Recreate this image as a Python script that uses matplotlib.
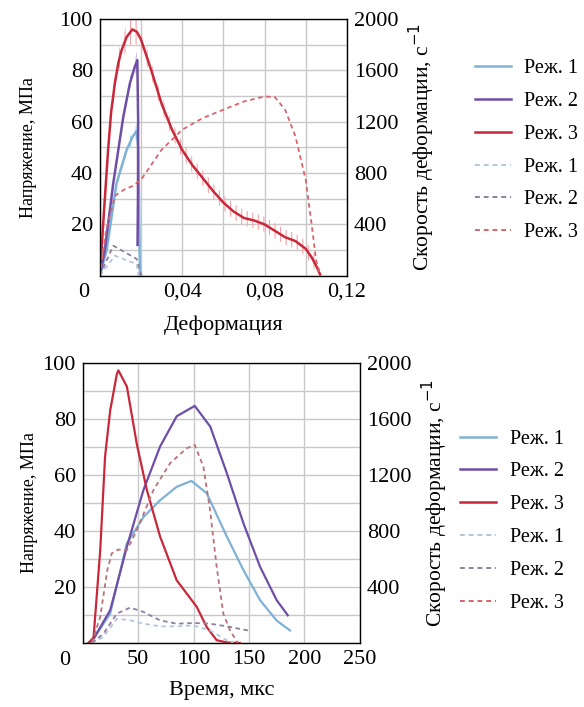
import numpy as np
import matplotlib
matplotlib.use('Agg')
import matplotlib.pyplot as plt
from matplotlib.lines import Line2D

plt.rcParams['font.family'] = ['Liberation Serif', 'DejaVu Serif']
plt.rcParams['font.size'] = 16
plt.rcParams['hatch.linewidth'] = 0.8

c1 = '#7fb2d6'
c2 = '#6e4fa5'
c3 = '#c8283a'
d1 = '#b4c6dc'
d2 = '#8f7f9e'
d3 = '#d9646c'

# ---- top chart: stress / strain rate vs strain ----
eps3 = [0, 0.002, 0.004, 0.0055, 0.0073, 0.009, 0.0106, 0.013, 0.0158, 0.018, 0.020, 0.025, 0.030,
        0.035, 0.040, 0.045, 0.050, 0.055, 0.060, 0.065, 0.070, 0.075, 0.080, 0.085,
        0.090, 0.095, 0.100, 0.103, 0.105, 0.107]
sig3 = [0, 25, 49, 64, 75, 83, 88, 93, 96, 95, 92, 80, 67,
        57, 49, 43, 38, 33, 28.5, 25, 22.5, 21.5, 20, 17.5,
        15, 13.5, 10.5, 7, 4, 0.5]
err3 = [0, 2, 3, 3, 4, 4, 4, 5, 5, 5, 4, 3, 3,
        3, 3, 3, 3, 3, 3, 3, 3, 3, 3, 3,
        3, 3, 3, 3, 3, 2]

eps2 = [0, 0.0024, 0.0065, 0.0114, 0.0146, 0.0168, 0.0182, 0.0186, 0.0185, 0.0183]
sig2 = [0, 10, 36, 62, 75, 81, 84, 60, 30, 12]
err2 = [0, 1, 1.5, 2, 2, 3, 4, 3, 2, 1]

eps1 = [0, 0.0033, 0.0081, 0.013, 0.0158, 0.0179, 0.0186, 0.019, 0.0193, 0.0195]
sig1 = [0, 10, 36, 49, 54, 56.5, 50, 30, 10, 0]
err1 = [0, 1, 1.5, 2, 2.5, 3, 2.5, 2, 1, 0]

reps3 = [0, 0.003, 0.0073, 0.0122, 0.016, 0.020, 0.030, 0.040, 0.050, 0.060, 0.070, 0.080,
         0.085, 0.090, 0.095, 0.100, 0.103, 0.105, 0.107]
rate3 = [0, 350, 623, 675, 700, 748, 982, 1138, 1229, 1294, 1358, 1397,
         1392, 1294, 1086, 748, 384, 125, 0]
reps2 = [0, 0.0065, 0.012, 0.0179, 0.019, 0.0203]
rate2 = [0, 234, 185, 130, 70, 0]
reps1 = [0, 0.0073, 0.013, 0.0179, 0.0187]
rate1 = [0, 156, 120, 91, 0]

# ---- bottom chart: stress / strain rate vs time ----
t3 = [5, 9.6, 15.6, 20, 24.6, 30.6, 32, 39.7, 48.7, 57.7, 69.7, 84.7, 93.7, 102.8, 111.8, 120.8, 130, 141.8]
s3 = [0, 2, 33, 66.6, 83, 96, 97.4, 91.6, 71, 54.7, 38, 22.4, 17.7, 12.9, 5.7, 1, 0.2, 0]
t2 = [5, 9.6, 24.6, 39.7, 54.7, 69.7, 84.7, 101, 115, 130, 145, 160, 175, 185]
s2 = [0, 1.5, 11.7, 34.4, 54.7, 70.2, 81, 84.7, 77.3, 60.6, 42.7, 27.2, 15.3, 9.9]
t1 = [5, 9.6, 24.6, 39.7, 54.7, 69.7, 84.7, 98, 111.8, 130, 145, 160, 175, 187]
s1 = [0, 1.5, 10.5, 35.6, 45, 51, 55.8, 57.9, 53.5, 38, 26, 15.3, 8, 4.5]

rt3 = [8, 15.6, 22, 26, 32, 39.7, 48.7, 63.7, 78.7, 93.7, 101, 108.8, 114.8, 120.8, 126.8, 132.8, 140]
r3 = [0, 186, 520, 640, 668, 663, 806, 1093, 1284, 1391, 1415, 1260, 950, 544, 210, 90, 0]
rt2 = [8, 18.6, 30.6, 42.7, 54.7, 69.7, 84.7, 99.8, 114.8, 130, 149]
r2 = [0, 67, 210, 253, 222, 162, 138, 143, 138, 119, 90]
rt1 = [8, 18.6, 30.6, 42.7, 54.7, 69.7, 84.7, 99.8, 114.8, 130, 136]
r1 = [0, 43, 174, 162, 138, 119, 119, 126, 90, 19, 0]

legend_labels = ['Реж. 1', 'Реж. 2', 'Реж. 3', 'Реж. 1', 'Реж. 2', 'Реж. 3']

fig = plt.figure(figsize=(5.84, 7.07), dpi=100)


def setup(ax, ax2, xmax, xstep, xlab_text, xlabel, ypad, xpad):
    ax.set_xlim(0, xmax)
    ax.set_ylim(0, 100)
    ax.set_xticks(np.arange(0, xmax + xstep / 2, xstep))
    ax.set_xticklabels([xlab_text.get(round(v, 4), '') for v in np.arange(0, xmax + xstep / 2, xstep)])
    ax.set_yticks(np.arange(0, 101, 10))
    ax.set_yticklabels(['' if (v % 20 or v == 0) else str(v) for v in range(0, 101, 10)])
    ax.grid(True, color='#c8c8c8', linewidth=1.0)
    ax.tick_params(length=0, pad=5)
    ax.set_axisbelow(True)
    ax.set_ylabel('Напряжение, МПа', labelpad=ypad, fontsize=13)
    ax.set_xlabel(xlabel, labelpad=xpad)
    for s in ax.spines.values():
        s.set_linewidth(1.0)
        s.set_color('#333333')
    ax2.set_ylim(0, 2000)
    ax2.set_yticks([400, 800, 1200, 1600, 2000])
    ax2.tick_params(length=0, pad=5)
    ax2.set_ylabel('Скорость деформации, с$^{-1}$', labelpad=6, fontsize=15.5)
    ax.text(-0.065, -0.03, '0', transform=ax.transAxes, ha='center', va='top')


def add_legend(pos):
    handles = [Line2D([], [], color=c1, lw=1.8), Line2D([], [], color=c2, lw=1.8),
               Line2D([], [], color=c3, lw=1.8),
               Line2D([], [], color=d1, lw=1.4, ls=(0, (2.5, 2))),
               Line2D([], [], color=d2, lw=1.4, ls=(0, (2.5, 2))),
               Line2D([], [], color=d3, lw=1.4, ls=(0, (2.5, 2)))]
    fig.legend(handles, legend_labels, loc='upper left', bbox_to_anchor=pos,
               frameon=False, handlelength=1.8, labelspacing=0.68, handletextpad=0.65,
               fontsize=14.5)


# top
ax = fig.add_axes([0.171, 0.610, 0.423, 0.363])
ax2 = ax.twinx()
setup(ax, ax2, 0.12, 0.02, {0.04: '0,04', 0.08: '0,08', 0.12: '0,12'}, 'Деформация', 16, 10)
for e, s, er, col in [(eps3, sig3, err3, '#f5a3a8'), (eps2, sig2, err2, '#b9a6dc'), (eps1, sig1, err1, '#a9d2ee')]:
    s = np.array(s)
    er = np.array(er)
    ax.fill_between(e, s - er, s + er, facecolor='none', edgecolor=col, hatch='|||', linewidth=0)
ax.plot(eps1, sig1, color=c1, lw=1.8)
ax.plot(eps2, sig2, color=c2, lw=1.8)
ax.plot(eps3, sig3, color=c3, lw=1.8)
ax2.plot(reps1, rate1, color=d1, lw=1.3, ls=(0, (2.5, 2)))
ax2.plot(reps2, rate2, color=d2, lw=1.3, ls=(0, (2.5, 2)))
ax2.plot(reps3, rate3, color=d3, lw=1.3, ls=(0, (2.5, 2)))
add_legend((0.782, 0.942))

# bottom
bx = fig.add_axes([0.142, 0.0905, 0.474, 0.396])
bx2 = bx.twinx()
setup(bx, bx2, 250, 50, {50: '50', 100: '100', 150: '150', 200: '200', 250: '250'}, 'Время, мкс', 3, 9)
bx.plot(t1, s1, color=c1, lw=1.6)
bx.plot(t2, s2, color=c2, lw=1.6)
bx.plot(t3, s3, color=c3, lw=1.6)
bx2.plot(rt1, r1, color=d1, lw=1.3, ls=(0, (2.5, 2)))
bx2.plot(rt2, r2, color=d2, lw=1.3, ls=(0, (2.5, 2)))
bx2.plot(rt3, r3, color='#b87278', lw=1.3, ls=(0, (2.5, 2)))
add_legend((0.757, 0.418))

fig.savefig('out.png', dpi=100)
